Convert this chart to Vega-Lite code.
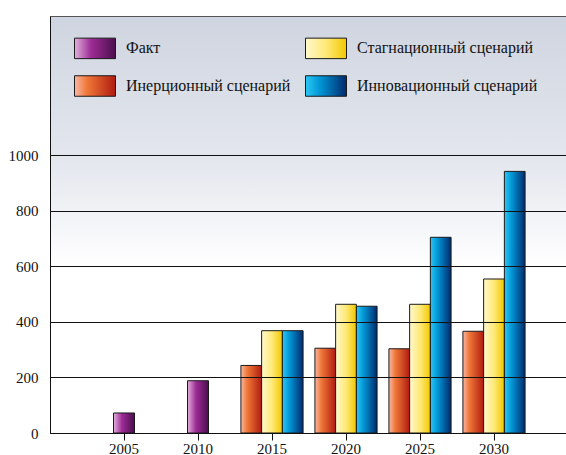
{
  "$schema": "https://vega.github.io/schema/vega-lite/v6.json",
  "width": 518,
  "height": 417,
  "autosize": "none",
  "padding": {"left": 50, "top": 16, "right": 0, "bottom": 22},
  "background": "white",
  "config": {
    "font": "Liberation Serif, Times New Roman, serif",
    "view": {
      "stroke": "#555555",
      "strokeWidth": 1,
      "fill": {"gradient": "linear", "x1": 0, "y1": 0, "x2": 0, "y2": 1, "stops": [{"offset": 0, "color": "#cfd5e0"}, {"offset": 0.35, "color": "#e4e7ee"}, {"offset": 0.6, "color": "#ffffff"}, {"offset": 1, "color": "#ffffff"}]}
    }
  },
  "data": {
    "values": [
      {"year": "2005", "series": "Факт", "value": 72},
      {"year": "2010", "series": "Факт", "value": 188},
      {"year": "2015", "series": "Инерционный сценарий", "value": 243},
      {"year": "2015", "series": "Стагнационный сценарий", "value": 368},
      {"year": "2015", "series": "Инновационный сценарий", "value": 368},
      {"year": "2020", "series": "Инерционный сценарий", "value": 305},
      {"year": "2020", "series": "Стагнационный сценарий", "value": 463},
      {"year": "2020", "series": "Инновационный сценарий", "value": 456},
      {"year": "2025", "series": "Инерционный сценарий", "value": 303},
      {"year": "2025", "series": "Стагнационный сценарий", "value": 463},
      {"year": "2025", "series": "Инновационный сценарий", "value": 704},
      {"year": "2030", "series": "Инерционный сценарий", "value": 366},
      {"year": "2030", "series": "Стагнационный сценарий", "value": 554},
      {"year": "2030", "series": "Инновационный сценарий", "value": 941}
    ]
  },
  "encoding": {
    "x": {
      "field": "year", "type": "ordinal",
      "scale": {"domain": ["2005", "2010", "2015", "2020", "2025", "2030"], "paddingInner": 0.16, "paddingOuter": 0.58},
      "axis": {"title": null, "labelAngle": 0, "labelFont": "Liberation Serif, Times New Roman, serif", "labelFontSize": 15, "labelColor": "#111111", "labelPadding": 1, "tickSize": 7, "tickColor": "#111111", "domainColor": "#111111", "bandPosition": 0.5, "grid": false}
    },
    "y": {
      "field": "value", "type": "quantitative",
      "scale": {"domain": [0, 1500], "nice": false},
      "axis": {"title": null, "values": [0, 200, 400, 600, 800, 1000], "format": "d", "labelFont": "Liberation Serif, Times New Roman, serif", "labelFontSize": 15, "labelColor": "#111111", "labelPadding": 12, "ticks": false, "domainColor": "#111111", "grid": true, "gridColor": "#111111", "gridOpacity": 1, "gridWidth": 1, "zindex": 1}
    },
    "color": {
      "field": "series", "type": "nominal",
      "scale": {
        "domain": ["Факт", "Инерционный сценарий", "Стагнационный сценарий", "Инновационный сценарий"],
        "range": [
          {"expr": "{gradient:'linear',stops:[{offset:0,color:'#e2b0dc'},{offset:0.4,color:'#9e2c96'},{offset:1,color:'#4a0e4e'}]}"},
          {"expr": "{gradient:'linear',stops:[{offset:0,color:'#f8b8a8'},{offset:0.3,color:'#f07838'},{offset:1,color:'#b01c10'}]}"},
          {"expr": "{gradient:'linear',stops:[{offset:0,color:'#fff8cc'},{offset:0.5,color:'#ffe978'},{offset:1,color:'#f2c800'}]}"},
          {"expr": "{gradient:'linear',stops:[{offset:0,color:'#2cc8f4'},{offset:0.35,color:'#0096d6'},{offset:1,color:'#002a6c'}]}"}
        ]
      },
      "legend": {
        "title": null,
        "orient": "none",
        "legendX": 24,
        "legendY": 11,
        "columns": 2,
        "padding": 0,
        "columnPadding": 12,
        "rowPadding": 4,
        "symbolType": "M-1,-0.5H1V0.5H-1Z",
        "symbolSize": 1681,
        "symbolStrokeColor": "#1a1a1a",
        "symbolStrokeWidth": 1,
        "labelFont": "Liberation Serif, Times New Roman, serif",
        "labelFontSize": 16,
        "labelColor": "#111111",
        "labelOffset": 10,
        "labelLimit": 300
      }
    }
  },
  "layer": [
    {
      "transform": [{"filter": "datum.series === 'Факт'"}],
      "mark": {"type": "bar", "size": 21, "stroke": "#1a1a1a", "strokeWidth": 1}
    },
    {
      "transform": [{"filter": "datum.series !== 'Факт'"}],
      "mark": {"type": "bar", "stroke": "#1a1a1a", "strokeWidth": 1},
      "encoding": {
        "xOffset": {"field": "series", "type": "nominal", "scale": {"domain": ["Инерционный сценарий", "Стагнационный сценарий", "Инновационный сценарий"], "paddingInner": 0, "paddingOuter": 0}}
      }
    }
  ]
}
